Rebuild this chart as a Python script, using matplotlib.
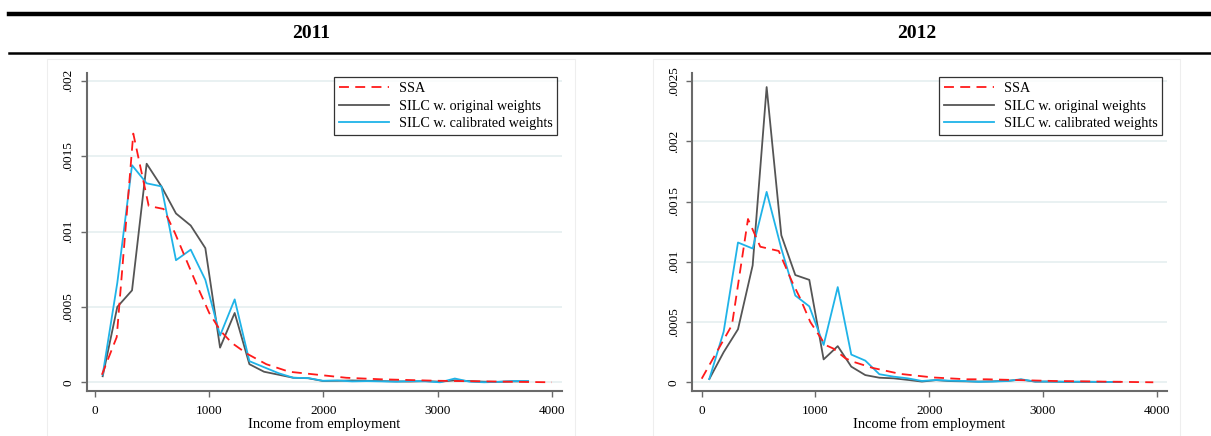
import matplotlib
matplotlib.use("Agg")
import matplotlib.pyplot as plt
from matplotlib.lines import Line2D
from matplotlib.patches import Rectangle

# ---- data ----
years = ["2011", "2012"]

# 2011
ssa_x_2011 = [60, 190, 335, 470, 600, 700, 800, 900, 1000, 1100, 1200, 1330, 1500,
              1700, 1950, 2200, 2500, 3000, 3500, 4000]
ssa_y_2011 = [0.00005, 0.0003, 0.00165, 0.00117, 0.00115, 0.00099, 0.00081, 0.00063,
              0.00046, 0.00034, 0.00026, 0.00019, 0.00012, 0.00007, 0.00005, 0.00003,
              0.00002, 0.00001, 0.000005, 0.0]
silc_x_2011 = [67, 195, 324, 452, 581, 709, 838, 966, 1095, 1223, 1352, 1480, 1609,
               1737, 1866, 1994, 2123, 2251, 2380, 2508, 2637, 2765, 2894, 3022,
               3151, 3279, 3408, 3536, 3665, 3793]
orig_y_2011 = [0.00004, 0.0005, 0.00061, 0.00145, 0.0013, 0.00112, 0.00104, 0.00089,
               0.00023, 0.00046, 0.00012, 0.00007, 0.00005, 0.00003, 0.000027,
               0.000009, 0.00001, 0.000012, 0.00001, 0.000008, 0.000006, 0.000005,
               0.000008, 0.000004, 0.000013, 0.000008, 0.000004, 0.000003, 0.000006,
               0.000006]
cal_y_2011 = [0.00005, 0.00066, 0.00144, 0.00132, 0.0013, 0.00081, 0.00088, 0.00068,
              0.00031, 0.00055, 0.00014, 0.0001, 0.00006, 0.00003, 0.000028, 0.00001,
              0.000012, 0.000006, 0.000008, 0.000006, 0.000004, 0.000008, 0.000006,
              0.0, 0.000025, 0.000004, 0.0, 0.000003, 0.000008, 0.000008]

# 2012
ssa_x_2012 = [0, 266, 407, 515, 677, 794, 864, 955, 1087, 1157, 1262, 1333, 1500,
              1743, 2036, 2330, 2505, 3091, 3500, 3970]
ssa_y_2012 = [0.00003, 0.000475, 0.001355, 0.001125, 0.00109, 0.000835, 0.0007,
              0.0005, 0.00031, 0.00028, 0.0002, 0.00017, 0.00012, 0.00007, 0.00004,
              0.000025, 0.000025, 0.000011, 0.000006, 0.0]
silc_x_2012 = [67, 193, 319, 448, 571, 700, 823, 946, 1072, 1196, 1315, 1438, 1562,
               1687, 1811, 1936, 2060, 2185, 2309, 2434, 2558, 2683, 2807, 2932,
               3056, 3181, 3305, 3430, 3554, 3679]
orig_y_2012 = [0.000027, 0.00025, 0.00044, 0.00097, 0.00245, 0.00122, 0.00089,
               0.00085, 0.00019, 0.0003, 0.00013, 0.00006, 0.000038, 0.000033,
               0.00002, 0.000006, 0.000018, 0.00001, 0.000008, 0.000006, 0.000008,
               0.000012, 0.000022, 0.000006, 0.000006, 0.000004, 0.000004, 0.000004,
               0.000003, 0.000004]
cal_y_2012 = [0.000027, 0.00042, 0.00116, 0.00111, 0.00158, 0.00111, 0.00072,
              0.00063, 0.00031, 0.00079, 0.00023, 0.00018, 0.000067, 0.000047,
              0.000033, 0.000011, 0.000019, 0.000013, 0.000011, 0.000004, 0.000006,
              0.00001, 0.000025, 0.000006, 0.000006, 0.000005, 0.000005, 0.000004,
              0.000003, 0.000003]

legend_labels = ["SSA", "SILC w. original weights", "SILC w. calibrated weights"]
xticks = [0, 1000, 2000, 3000, 4000]
yticks_2011 = [0, 0.0005, 0.001, 0.0015, 0.002]
ylabels_2011 = ["0", ".0005", ".001", ".0015", ".002"]
yticks_2012 = [0, 0.0005, 0.001, 0.0015, 0.002, 0.0025]
ylabels_2012 = ["0", ".0005", ".001", ".0015", ".002", ".0025"]

RED = "#ff1a1a"
GREY = "#555555"
BLUE = "#1fb3e8"
GRID = "#e9f1f2"
AXC = "#6a6a6a"

plt.rcParams["font.family"] = ["Liberation Serif", "DejaVu Serif"]

W, H = 1211, 436
fig = plt.figure(figsize=(W / 100, H / 100), dpi=100)


def px_rect(x0, y0, x1, y1):
    # pixel box (top-left origin) -> figure fraction
    return [x0 / W, 1 - y1 / H, (x1 - x0) / W, (y1 - y0) / H]


# header rules
fig.add_artist(Line2D([9 / W, 1], [1 - 14 / H] * 2, color="black", lw=3.2))
fig.add_artist(Line2D([9 / W, 1], [1 - 53 / H] * 2, color="black", lw=1.8))

panels = [
    dict(year=years[0], frame=(47, 59, 575, 440), ax=(86.7, 73.3, 561.7, 391),
         xlim=(-73, 4087), ylim=(-0.0000578, 0.00205),
         ssa=(ssa_x_2011, ssa_y_2011), sx=silc_x_2011, orig=orig_y_2011,
         cal=cal_y_2011, yt=yticks_2011, yl=ylabels_2011),
    dict(year=years[1], frame=(652.7, 59, 1180, 440), ax=(692.3, 73.3, 1166.7, 391),
         xlim=(-82.6, 4088), ylim=(-0.0000722, 0.002564),
         ssa=(ssa_x_2012, ssa_y_2012), sx=silc_x_2012, orig=orig_y_2012,
         cal=cal_y_2012, yt=yticks_2012, yl=ylabels_2012),
]

for p in panels:
    fx0, fy0, fx1, fy1 = p["frame"]
    fig.add_artist(Rectangle((fx0 / W, 1 - fy1 / H), (fx1 - fx0) / W, (fy1 - fy0) / H,
                             transform=fig.transFigure, fill=False,
                             edgecolor="#eeeeee", lw=0.8))
    fig.text((fx0 + fx1) / 2 / W, 1 - 34 / H, p["year"], ha="center", va="center",
             fontsize=14, fontweight="bold")

    ax = fig.add_axes(px_rect(*p["ax"]))
    ax.plot(p["ssa"][0], p["ssa"][1], color=RED, lw=1.3, ls=(0, (5.5, 3.5)),
            label=legend_labels[0], zorder=3)
    ax.plot(p["sx"], p["orig"], color=GREY, lw=1.3, label=legend_labels[1], zorder=2)
    ax.plot(p["sx"], p["cal"], color=BLUE, lw=1.3, label=legend_labels[2], zorder=2)

    ax.set_xlim(*p["xlim"])
    ax.set_ylim(*p["ylim"])
    ax.set_xticks(xticks)
    ax.set_xticklabels([str(t) for t in xticks])
    ax.set_yticks(p["yt"])
    ax.set_yticklabels(p["yl"], rotation=90, va="center")
    ax.tick_params(axis="both", labelsize=9.5, color=AXC, length=4, width=1)
    ax.tick_params(axis="x", pad=6)
    ax.tick_params(axis="y", pad=5)
    for t in p["yt"]:
        ax.axhline(t, color=GRID, lw=1.4, zorder=0)
    for s in ["top", "right"]:
        ax.spines[s].set_visible(False)
    for s in ["left", "bottom"]:
        ax.spines[s].set_color(AXC)
        ax.spines[s].set_linewidth(1.5)
    ax.set_xlabel("Income from employment", fontsize=10.5, labelpad=0)

    leg = ax.legend(loc="upper right", bbox_to_anchor=(0.9907, 0.9874),
                    borderaxespad=0, fontsize=10.2, frameon=True, fancybox=False,
                    edgecolor="black", handlelength=3.5, labelspacing=0.3,
                    borderpad=0.35, handletextpad=0.7)
    leg.get_frame().set_linewidth(0.9)

fig.savefig("out.png", dpi=100)
